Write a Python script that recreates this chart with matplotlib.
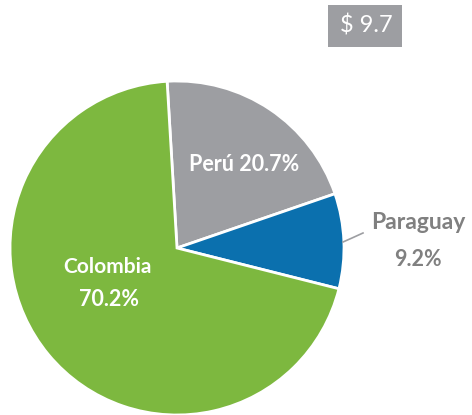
import matplotlib.pyplot as plt
from matplotlib.patches import Rectangle

labels = ['Perú', 'Paraguay', 'Colombia']
shares = [20.7, 9.2, 70.2]
colors = ['#9d9ea2', '#0b70ae', '#7db83f']
total = '$ 9.7'

fig = plt.figure(figsize=(4.72, 4.15), dpi=100)
ax = fig.add_axes([0, 0, 1, 1])
ax.pie(shares, colors=colors, startangle=93.4, counterclock=False,
       center=(177, 167), radius=167, frame=True,
       wedgeprops=dict(edgecolor='white', linewidth=2))
ax.set_xlim(0, 472)
ax.set_ylim(0, 415)
ax.axis('off')

font = ['Lato', 'DejaVu Sans']
ax.text(244, 250, f'{labels[0]} {shares[0]}%', color='white', fontsize=15.5,
        fontweight='bold', family=font, ha='center', va='center')
ax.text(107, 148, labels[2], color='white', fontsize=15,
        fontweight='bold', family=font, ha='center', va='center')
ax.text(109, 115, f'{shares[2]}%', color='white', fontsize=15.5,
        fontweight='bold', family=font, ha='center', va='center')
ax.text(418, 192, labels[1], color='#808080', fontsize=16.5,
        fontweight='bold', family=font, ha='center', va='center')
ax.text(418, 155, f'{shares[1]}%', color='#808080', fontsize=15.5,
        fontweight='bold', family=font, ha='center', va='center')
ax.plot([343, 352, 363], [173, 177, 182], color='#9d9ea2', lw=1.2)

ax.add_patch(Rectangle((328, 368), 74, 42, fc='#9d9ea2', ec='none'))
ax.text(366, 389, total, color='white', fontsize=17, family=font,
        ha='center', va='center')

fig.savefig('out.png', dpi=100)
